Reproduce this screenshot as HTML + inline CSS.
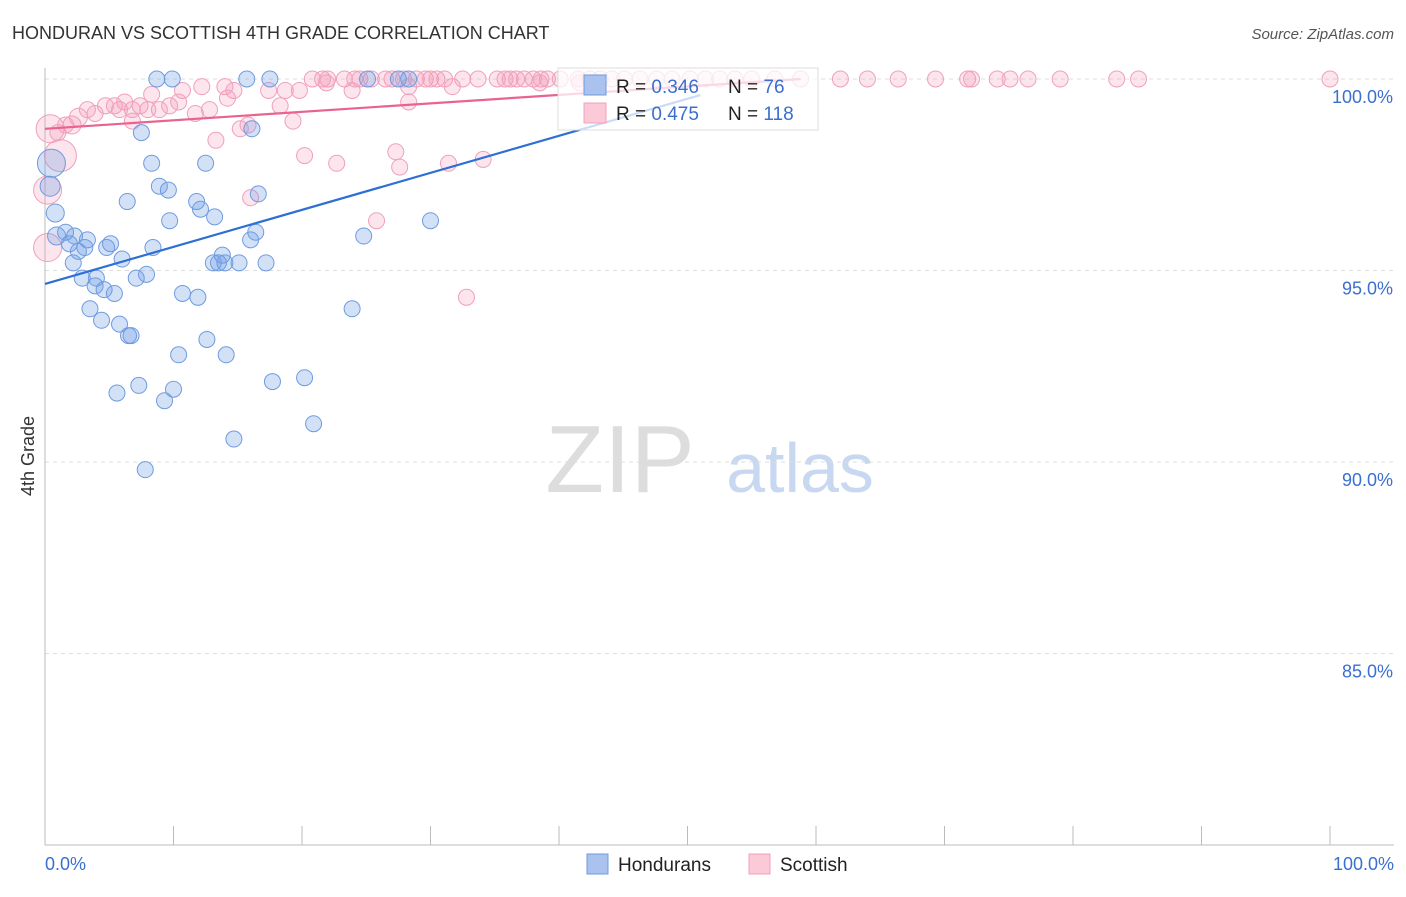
<!DOCTYPE html>
<html><head><meta charset="utf-8"><style>
body{margin:0;background:#fff;font-family:"Liberation Sans",sans-serif;}
svg text{font-family:"Liberation Sans",sans-serif;}
</style></head><body>
<svg id="chart" width="1406" height="892" xmlns="http://www.w3.org/2000/svg">
<text x="12" y="39" font-size="18" fill="#333">HONDURAN VS SCOTTISH 4TH GRADE CORRELATION CHART</text>
<text x="1394" y="39" font-size="15" fill="#555" text-anchor="end" font-style="italic">Source: ZipAtlas.com</text>
<text x="34" y="456" font-size="18" fill="#333" text-anchor="middle" transform="rotate(-90 34 456)">4th Grade</text>
<text x="620" y="492" font-size="96" fill="#ddd" font-family="Liberation Serif" text-anchor="middle">ZIP</text>
<text x="800" y="492" font-size="70" fill="#c8d8f0" text-anchor="middle">atlas</text>
<g id="grid"></g><g id="pts"></g><g id="lines"></g>
<g>
<rect x="558" y="68" width="260" height="62" fill="rgba(255,255,255,0.75)" stroke="#ddd"/>
<rect x="584" y="75" width="22" height="20" fill="#a9c2ee" stroke="#6f9be0"/>
<rect x="584" y="103" width="22" height="20" fill="#fbc9d8" stroke="#f0a0bc"/>
<text x="616" y="93" font-size="19" fill="#222">R = <tspan fill="#3a6fd0">0.346</tspan></text>
<text x="728" y="93" font-size="19" fill="#222">N = <tspan fill="#3a6fd0"> 76</tspan></text>
<text x="616" y="120" font-size="19" fill="#222">R = <tspan fill="#3a6fd0">0.475</tspan></text>
<text x="728" y="120" font-size="19" fill="#222">N = <tspan fill="#3a6fd0">118</tspan></text>
</g>
<g>
<rect x="587" y="854" width="21" height="20" fill="#a9c2ee" stroke="#6f9be0"/>
<text x="618" y="871" font-size="19" fill="#222">Hondurans</text>
<rect x="749" y="854" width="21" height="20" fill="#fbc9d8" stroke="#f0a0bc"/>
<text x="780" y="871" font-size="19" fill="#222">Scottish</text>
</g>
</svg>
<script>
const yTicks=[100,95,90,85];
const xTickLabels=["0.0%","100.0%"];
const blueLine=[94.65,99.58,51];
const pinkLine=[98.7,100,58.8];
const blueX=[8.7,9.9,15.7,17.5,25.1,27.5,28.3,0.5,0.4,0.8,0.9,1.6,1.9,2.3,3.3,3.1,5.1,4.8,2.6,2.2,6.0,7.5,8.3,8.9,9.6,6.4,11.8,12.1,13.2,9.7,12.5,16.1,16.6,16.4,16.0,13.8,8.4,7.9,7.1,4.0,2.9,3.9,4.6,5.4,3.5,4.4,5.8,6.7,6.5,10.7,11.9,13.1,13.5,14.0,15.1,17.2,24.8,30.0,23.9,10.4,12.6,14.1,5.6,7.3,10.0,9.3,17.7,20.2,14.7,20.9,7.8];
const blueY=[100,100,100,100,100,100,100,97.8,97.2,96.5,95.9,96.0,95.7,95.9,95.8,95.6,95.7,95.6,95.5,95.2,95.3,98.6,97.8,97.2,97.1,96.8,96.8,96.6,96.4,96.3,97.8,98.7,97.0,96.0,95.8,95.4,95.6,94.9,94.8,94.8,94.8,94.6,94.5,94.4,94.0,93.7,93.6,93.3,93.3,94.4,94.3,95.2,95.2,95.2,95.2,95.2,95.9,96.3,94.0,92.8,93.2,92.8,91.8,92.0,91.9,91.6,92.1,92.2,90.6,91.0,89.8];
const blueR=[8,8,8,8,8,8,8,14,10,9,9,8,8,8,8,8,8,8,8,8,8,8,8,8,8,8,8,8,8,8,8,8,8,8,8,8,8,8,8,8,8,8,8,8,8,8,8,8,8,8,8,8,8,8,8,8,8,8,8,8,8,8,8,8,8,8,8,8,8,8,8];
const pinkX=[20.8,21.6,22.0,23.3,24.1,24.5,25.4,26.5,27.0,27.9,28.9,29.6,30.0,30.5,31.1,32.5,33.7,35.2,35.8,36.2,36.7,37.3,38.0,38.6,39.1,40.1,41.5,42.4,43.2,44.1,45.1,46.3,47.6,48.8,50.2,51.4,52.5,53.7,55.0,56.8,58.8,61.9,64.0,66.4,69.3,71.8,72.1,74.1,75.1,76.5,79.0,83.4,85.1,100,14.0,14.7,17.4,18.7,19.8,21.9,23.9,28.3,31.7,38.5,41.6,0.4,1.2,0.2,0.2,2.1,2.6,3.3,3.9,4.7,5.4,6.2,6.8,7.4,8.3,8.0,8.9,9.7,10.4,10.7,11.7,12.2,12.8,13.3,14.2,15.2,15.8,18.3,19.3,20.2,22.7,16.0,28.3,27.3,27.6,31.4,34.1,25.8,32.8,6.8,5.8,1.0,1.6];
const pinkY=[100,100,100,100,100,100,100,100,100,100,100,100,100,100,100,100,100,100,100,100,100,100,100,100,100,100,100,100,100,100,100,100,100,100,100,100,100,100,100,100,100,100,100,100,100,100,100,100,100,100,100,100,100,100,99.8,99.7,99.7,99.7,99.7,99.9,99.7,99.8,99.8,99.9,99.9,98.7,98.0,97.1,95.6,98.8,99.0,99.2,99.1,99.3,99.3,99.4,99.2,99.3,99.6,99.2,99.2,99.3,99.4,99.7,99.1,99.8,99.2,98.4,99.5,98.7,98.8,99.3,98.9,98.0,97.8,96.9,99.4,98.1,97.7,97.8,97.9,96.3,94.3,98.9,99.2,98.6,98.8];
const pinkR=[8,8,8,8,8,8,8,8,8,8,8,8,8,8,8,8,8,8,8,8,8,8,8,8,8,8,8,8,8,8,8,8,8,8,8,8,8,8,8,8,8,8,8,8,8,8,8,8,8,8,8,8,8,8,8,8,8,8,8,8,8,8,8,8,8,14,16,14,14,9,9,8,8,8,8,8,8,8,8,8,8,8,8,8,8,8,8,8,8,8,8,8,8,8,8,8,8,8,8,8,8,8,8,8,8,8,8];
const NS="http://www.w3.org/2000/svg";
const X=v=>45+v*12.85, Y=v=>79+(100-v)*38.3;
function mk(t,a,p){const e=document.createElementNS(NS,t);for(const k in a)e.setAttribute(k,a[k]);p.appendChild(e);return e;}
const grid=document.getElementById('grid');
yTicks.forEach(t=>{const l=mk('line',{x1:45,x2:1394,y1:Y(t),y2:Y(t),stroke:'#ddd','stroke-dasharray':'4,4'},grid);


const tx=mk('text',{x:1393,y:Y(t)+24,'font-size':18,fill:'#3a6fd0','text-anchor':'end'},grid);tx.textContent=t.toFixed(1)+'%';

});
mk('line',{x1:45,x2:45,y1:68,y2:845,stroke:'#bbb'},grid);
mk('line',{x1:45,x2:1394,y1:845,y2:845,stroke:'#bbb'},grid);
for(let i=0;i<=10;i++){const t=mk('line',{x1:X(i*10),x2:X(i*10),y1:826,y2:845,stroke:'#bbb'},grid);

}
[[0,'start',45],[1,'end',1394]].forEach(([i,a,x])=>{const t=mk('text',{x:x,y:870,'font-size':18,fill:'#3a6fd0','text-anchor':a},grid);t.textContent=xTickLabels[i];

});
const pts=document.getElementById('pts');
pinkX.forEach((x,i)=>{const c=mk('circle',{cx:X(x),cy:Y(pinkY[i]),r:pinkR[i],fill:'rgba(245,150,185,0.25)',stroke:'#f0a0bc','stroke-width':1},pts);

});
blueX.forEach((x,i)=>{const c=mk('circle',{cx:X(x),cy:Y(blueY[i]),r:blueR[i],fill:'rgba(110,155,230,0.3)',stroke:'#6f9be0','stroke-width':1},pts);

});
const lines=document.getElementById('lines');
const bl=mk('line',{x1:X(0),y1:Y(blueLine[0]),x2:X(blueLine[2]),y2:Y(blueLine[1]),stroke:'#2e6fd6','stroke-width':2.2},lines);


const pl=mk('line',{x1:X(0),y1:Y(pinkLine[0]),x2:X(pinkLine[2]),y2:Y(pinkLine[1]),stroke:'#e8648f','stroke-width':2.2},lines);


</script>
</body></html>
